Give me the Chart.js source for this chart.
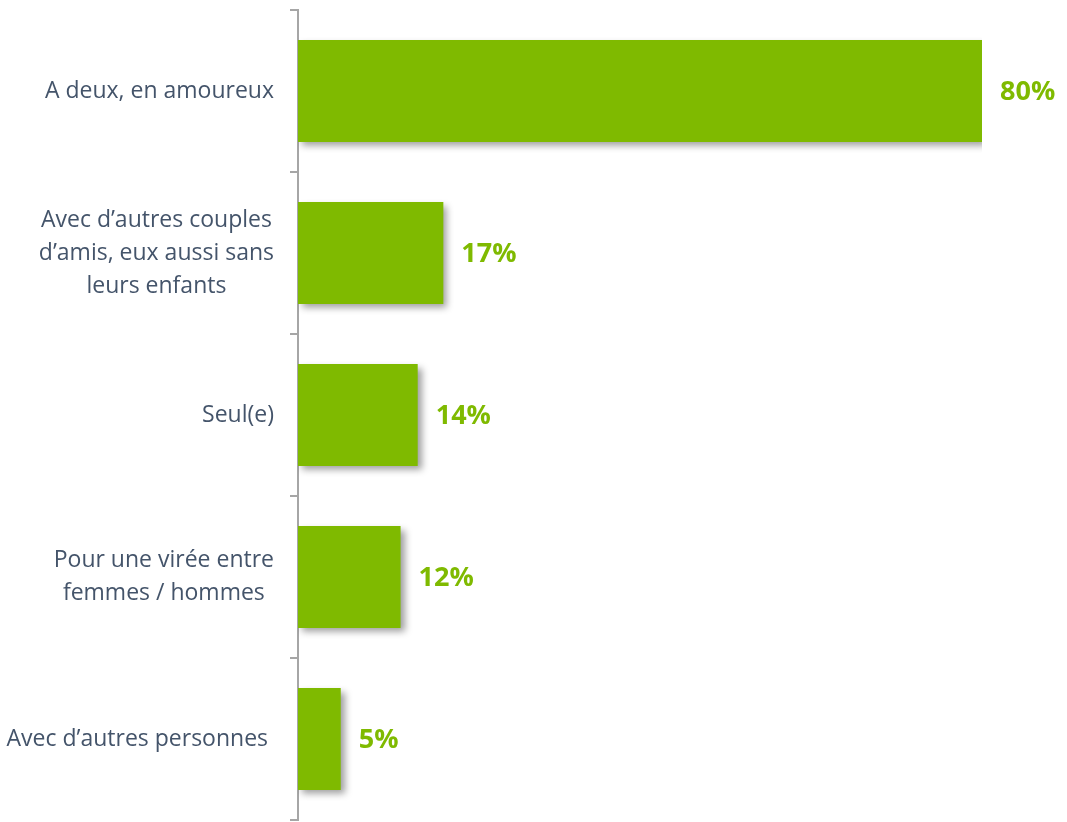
<!DOCTYPE html>
<html><head><meta charset="utf-8">
<script src="https://cdn.jsdelivr.net/npm/chart.js@4"></script>
<style>html,body{margin:0;padding:0;background:#fff;overflow:hidden}</style>
</head><body>
<canvas id="c" width="1067" height="822"></canvas>
<script>
const categories = [
  ["A deux, en amoureux"],
  ["Avec d’autres couples", "d’amis, eux aussi sans", "leurs enfants"],
  ["Seul(e)"],
  ["Pour une virée entre", "femmes / hommes"],
  ["Avec d’autres personnes "]
];
const values = [80, 17, 14, 12, 5];
const valueLabels = ["80%", "17%", "14%", "12%", "5%"];

const GREEN = '#7fba00';
const TEXT = '#44546a';
const AXIS = '#a6a6a6';

const shadowPlugin = {
  id: 'barShadow',
  beforeDatasetsDraw(chart) {
    const ctx = chart.ctx;
    ctx.save();
    ctx.shadowColor = 'rgba(0,0,0,0.38)';
    ctx.shadowBlur = 7;
    ctx.shadowOffsetX = 4;
    ctx.shadowOffsetY = 4;
  },
  afterDatasetsDraw(chart) {
    chart.ctx.restore();
  }
};

const labelPlugin = {
  id: 'labels',
  afterDraw(chart) {
    const ctx = chart.ctx;
    // value labels
    const meta = chart.getDatasetMeta(0);
    ctx.save();
    ctx.font = 'bold 27px "Open Sans"';
    ctx.fillStyle = GREEN;
    ctx.textAlign = 'left';
    ctx.textBaseline = 'middle';
    meta.data.forEach((bar, i) => {
      ctx.fillText(valueLabels[i], bar.x + 18, bar.y + 1);
    });
    // category labels (block right-aligned, lines centred)
    const ys = chart.scales.y;
    ctx.font = '23px "Open Sans"';
    ctx.fillStyle = TEXT;
    ctx.textAlign = 'center';
    const lh = 33;
    categories.forEach((lines, i) => {
      const yc = ys.getPixelForValue(i);
      const w = Math.max(...lines.map(l => ctx.measureText(l).width));
      const right = ys.right - 24;
      const cx = right - w / 2;
      const y0 = yc - (lines.length - 1) * lh / 2;
      lines.forEach((l, k) => ctx.fillText(l, cx, y0 + k * lh));
    });
    ctx.restore();
  }
};

new Chart(document.getElementById('c'), {
  type: 'bar',
  data: {
    labels: categories.map(c => c.join(' ')),
    datasets: [{
      data: values,
      backgroundColor: GREEN,
      borderWidth: 0,
      barPercentage: 0.63,
      categoryPercentage: 1
    }]
  },
  options: {
    indexAxis: 'y',
    responsive: false,
    animation: false,
    devicePixelRatio: 1,
    layout: { padding: { left: 290, right: 85, top: 10, bottom: 2 } },
    plugins: { legend: { display: false }, tooltip: { enabled: false } },
    scales: {
      x: { display: false, min: 0, max: 80 },
      y: {
        type: 'category',
        offset: true,
        grid: { offset: true, drawOnChartArea: false, drawTicks: true, tickLength: 8, color: AXIS, lineWidth: 2 },
        border: { display: true, color: AXIS, width: 2 },
        ticks: { display: false }
      }
    }
  },
  plugins: [shadowPlugin, labelPlugin]
});
</script>
</body></html>
